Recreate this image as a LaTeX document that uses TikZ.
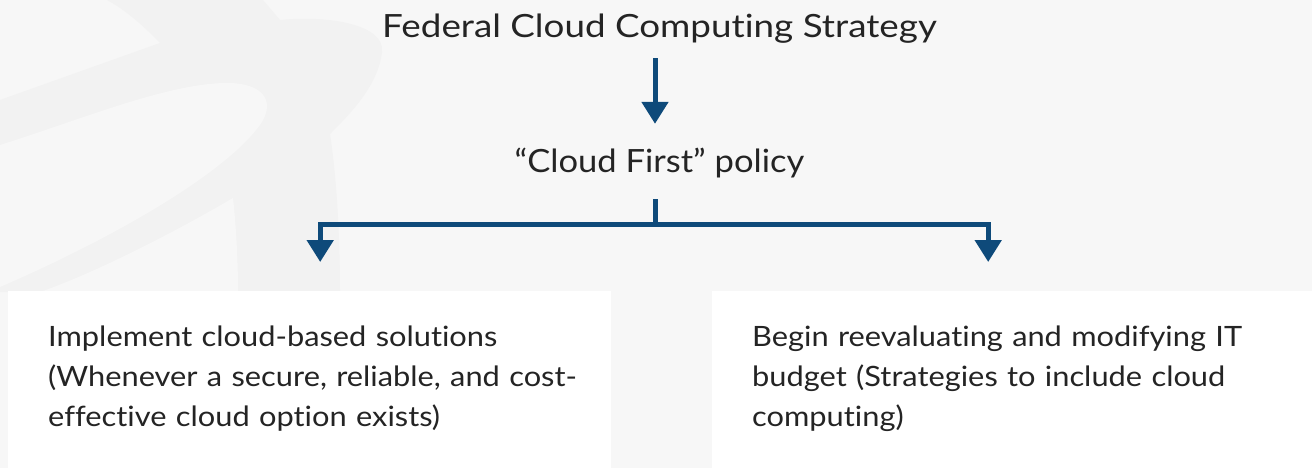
\documentclass[tikz,border=0pt]{standalone}
\usepackage{fontspec}
\setmainfont{Lato}
\newfontfamily\headfont[FakeStretch=1.15,Ligatures=NoCommon]{Lato}
\newfontfamily\policyfont[FakeStretch=1.08,Ligatures=NoCommon]{Lato}
\newfontfamily\boxfont[FakeStretch=1.1,Ligatures=NoCommon]{Lato}
\usetikzlibrary{arrows.meta}
\definecolor{bg}{HTML}{F7F7F7}
\definecolor{wm}{HTML}{F2F2F2}
\definecolor{navy}{HTML}{0E4A7A}
\definecolor{ink}{HTML}{242424}
\begin{document}
\begin{tikzpicture}[x=1pt,y=-1pt,
  conn/.style={draw=navy,line width=5pt},
  arr/.style={conn,-{Triangle[width=26pt,length=22pt]}},
  headtext/.style={text=ink,inner sep=0pt,anchor=base,text height=24pt,text depth=7pt,font=\headfont\fontsize{32}{38}\selectfont},
  box/.style={fill=white,anchor=north west,minimum height=177pt,inner xsep=40pt,inner ysep=0pt,align=left,text=ink,font=\boxfont\fontsize{28}{40}\selectfont}]
\useasboundingbox (0,0) rectangle (1312,468);
\fill[bg] (0,0) rectangle (1312,468);
% watermark
\fill[wm] (0,100) -- (160,43) .. controls (140,22) and (122,8) .. (107,0) -- (263,0) -- (280,20)
  .. controls (330,15) and (385,25) .. (382,52) .. controls (378,85) and (352,112) .. (330,134)
  .. controls (337,180) and (340,240) .. (340,292) -- (0,292) -- cycle;
\fill[bg] (0,145) .. controls (80,120) and (170,82) .. (230,83) .. controls (262,84) and (275,100) .. (262,122)
  .. controls (230,170) and (120,235) .. (0,287) -- cycle;
\fill[bg] (233,198) .. controls (170,235) and (90,275) .. (40,292) -- (238,292) .. controls (238,260) and (236,225) .. (233,198) -- cycle;
% boxes
\node[box,minimum width=603pt,text width=523pt] (lbox) at (8,291) {\mbox{Implement cloud-based solutions}\\\mbox{(Whenever a secure, reliable, and cost-}\\\mbox{effective cloud option exists)}\rule[-8pt]{0pt}{8pt}};
\node[box,minimum width=600pt,text width=520pt] (rbox) at (712,291) {\mbox{Begin reevaluating and modifying IT}\\\mbox{budget (Strategies to include cloud}\\\mbox{computing)}\rule[-8pt]{0pt}{8pt}};
% headings
\node[headtext] (title) at (659.5,38) {Federal Cloud Computing Strategy};
\node[headtext,font=\policyfont\fontsize{32}{38}\selectfont] (policy) at (659.5,172) {“Cloud First” policy};
% connectors
\draw[arr,shorten <=13pt,shorten >=24pt] ([xshift=-4.5pt]title.south) -- ([xshift=-4.5pt]policy.north);
\coordinate (junc) at (655,224);
\draw[conn] ([xshift=-4.5pt,yshift=-20pt]policy.south) -- (junc);
\draw[arr] (junc) -| ([xshift=10.5pt,yshift=29pt]lbox.north);
\draw[arr] (junc) -| ([xshift=-24pt,yshift=29pt]rbox.north);
\end{tikzpicture}
\end{document}
